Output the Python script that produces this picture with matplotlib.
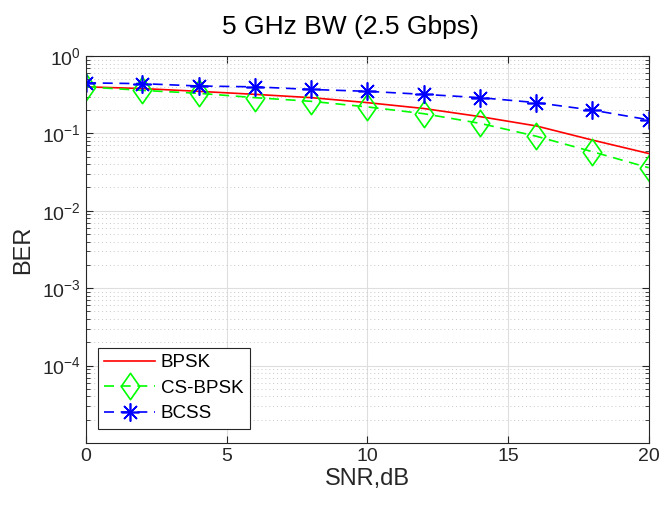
import matplotlib.pyplot as plt
from matplotlib.path import Path
from matplotlib.ticker import LogLocator, NullFormatter, FixedLocator

plt.rcParams['font.family'] = ['Liberation Sans', 'DejaVu Sans']

snr = [0, 2, 4, 6, 8, 10, 12, 14, 16, 18, 20]
ber_bpsk = [0.40, 0.38, 0.35, 0.32, 0.29, 0.25, 0.21, 0.165, 0.125, 0.082, 0.055]
ber_csbpsk = [0.40, 0.36, 0.33, 0.29, 0.26, 0.22, 0.18, 0.135, 0.092, 0.058, 0.036]
ber_bcss = [0.45, 0.44, 0.41, 0.40, 0.37, 0.35, 0.32, 0.29, 0.25, 0.20, 0.15]

# MATLAB style diamond (a bit wider than matplotlib 'd')
diamond = Path([(0, 1), (0.7, 0), (0, -1), (-0.7, 0), (0, 1)],
               [Path.MOVETO, Path.LINETO, Path.LINETO, Path.LINETO, Path.CLOSEPOLY])

fig = plt.figure(figsize=(6.62, 5.05), dpi=100)
ax = fig.add_axes([0.130, 0.123, 0.850, 0.766])

ax.plot(snr, ber_bpsk, color='#ff0000', lw=1.2, label='BPSK')
ax.plot(snr, ber_csbpsk, color='#00ff00', lw=1.2, ls=(0, (6, 4)), marker=diamond,
        ms=19, mfc='none', mec='#00ff00', mew=1.2, label='CS-BPSK')
ax.plot(snr, ber_bcss, color='#0000ff', lw=1.2, ls=(0, (6, 4)), marker=(8, 2, 0),
        ms=13, mec='#0000ff', mew=1.2, label='BCSS')

ax.set_yscale('log')
ax.set_xlim(0, 20)
ax.set_ylim(1e-5, 1)
ax.xaxis.set_major_locator(FixedLocator([0, 5, 10, 15, 20]))
ax.yaxis.set_major_locator(FixedLocator([1e-4, 1e-3, 1e-2, 1e-1, 1]))
ax.yaxis.set_minor_locator(LogLocator(base=10, subs=range(2, 10)))
ax.yaxis.set_minor_formatter(NullFormatter())

ax.grid(True, which='major', color='#dedede', lw=0.8)
ax.grid(True, which='minor', axis='y', color='#c8c8c8', lw=0.7, ls=(0, (1, 3)))
ax.set_axisbelow(True)

ax.tick_params(which='both', direction='in', top=True, right=True, colors='#262626',
               labelsize=14)
ax.tick_params(which='major', length=5)
ax.tick_params(which='minor', length=3)
for s in ax.spines.values():
    s.set_color('#262626')
    s.set_linewidth(0.8)

ax.set_xlabel('SNR,dB', fontsize=17, color='#262626', labelpad=2)
ax.set_ylabel('BER', fontsize=17, color='#262626', labelpad=6)
ax.set_title('5 GHz BW (2.5 Gbps)', fontsize=19, color='#000000', pad=16, x=0.47)

leg = ax.legend(loc='lower left', bbox_to_anchor=(0.021, 0.036), borderaxespad=0,
                fontsize=13.5, fancybox=False, framealpha=1,
                edgecolor='#262626', handlelength=2.7, handletextpad=0.3,
                labelspacing=0.45, borderpad=0.35)
leg.get_frame().set_linewidth(0.8)

fig.savefig('out.png', dpi=100)
